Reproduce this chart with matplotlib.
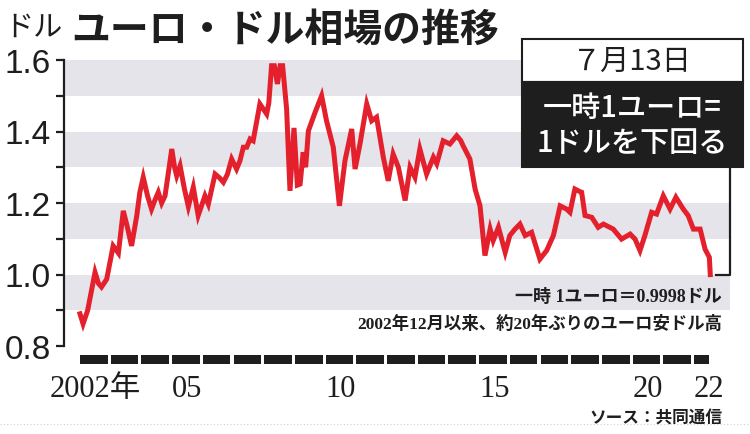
import matplotlib
matplotlib.use('Agg')
import matplotlib.pyplot as plt
from matplotlib.patches import Rectangle
from matplotlib.lines import Line2D

# euro / dollar rate
dates = [2002.00, 2002.10, 2002.25, 2002.49, 2002.60, 2002.70, 2002.87, 2003.08,
         2003.25, 2003.41, 2003.55, 2003.68, 2003.85, 2003.95, 2004.06, 2004.20,
         2004.33, 2004.45, 2004.55, 2004.66, 2004.77, 2004.99, 2005.08, 2005.15,
         2005.26, 2005.40, 2005.53, 2005.69, 2005.85, 2006.07, 2006.18, 2006.40,
         2006.55, 2006.67, 2006.80, 2006.94, 2007.10, 2007.21, 2007.32, 2007.43,
         2007.54, 2007.64, 2007.86, 2008.08, 2008.15, 2008.24, 2008.33, 2008.43,
         2008.52, 2008.60, 2008.73, 2008.84, 2008.97, 2009.08, 2009.17, 2009.27,
         2009.35, 2009.44, 2009.66, 2009.87, 2010.03, 2010.25, 2010.45, 2010.63,
         2010.85, 2010.96, 2011.12, 2011.34, 2011.50, 2011.66, 2011.88, 2012.04,
         2012.20, 2012.37, 2012.59, 2012.75, 2012.91, 2013.07, 2013.29, 2013.51,
         2013.62, 2013.83, 2014.05, 2014.27, 2014.40, 2014.48, 2014.70, 2014.87,
         2015.03, 2015.19, 2015.36, 2015.46, 2015.63, 2015.85, 2016.00, 2016.17,
         2016.33, 2016.50, 2016.71, 2016.98, 2017.20, 2017.42, 2017.64, 2017.85,
         2017.96, 2018.12, 2018.28, 2018.34, 2018.45, 2018.67, 2018.88, 2019.05,
         2019.37, 2019.64, 2019.92, 2020.08, 2020.24, 2020.40, 2020.62, 2020.78,
         2021.00, 2021.22, 2021.41, 2021.65, 2021.81, 2021.98, 2022.20, 2022.36,
         2022.50, 2022.53]
rates = [0.890, 0.862, 0.900, 1.006, 0.975, 0.965, 0.987, 1.080,
         1.060, 1.178, 1.130, 1.080, 1.165, 1.230, 1.272, 1.220,
         1.183, 1.210, 1.230, 1.200, 1.220, 1.351, 1.300, 1.276,
         1.304, 1.240, 1.190, 1.244, 1.165, 1.220, 1.197, 1.281,
         1.270, 1.258, 1.280, 1.323, 1.295, 1.318, 1.356, 1.356,
         1.379, 1.374, 1.477, 1.449, 1.480, 1.584, 1.584, 1.533,
         1.584, 1.584, 1.463, 1.234, 1.410, 1.250, 1.253, 1.342,
         1.300, 1.402, 1.454, 1.500, 1.430, 1.356, 1.192, 1.318,
         1.407, 1.295, 1.365, 1.477, 1.430, 1.440, 1.328, 1.262,
         1.337, 1.300, 1.207, 1.300, 1.272, 1.351, 1.281, 1.328,
         1.310, 1.374, 1.365, 1.388, 1.375, 1.360, 1.323, 1.239,
         1.192, 1.053, 1.127, 1.095, 1.132, 1.062, 1.109, 1.127,
         1.141, 1.109, 1.118, 1.043, 1.067, 1.109, 1.192, 1.183,
         1.174, 1.239, 1.232, 1.230, 1.165, 1.160, 1.132, 1.141,
         1.127, 1.099, 1.113, 1.099, 1.067, 1.109, 1.174, 1.169,
         1.220, 1.183, 1.216, 1.183, 1.165, 1.127, 1.127, 1.071,
         1.048, 0.9998]

years = list(range(2002, 2023))
year_labels = {2002: '2002年', 2005: '05', 2010: '10', 2015: '15', 2020: '20', 2022: '22'}
yticks = [0.8, 1.0, 1.2, 1.4, 1.6]
bands = [(0.9, 1.0), (1.1, 1.2), (1.3, 1.4), (1.5, 1.6)]

W, H = 750, 435
red = '#e3202b'
ink = '#1e1e1e'
jp = ['Noto Sans CJK JP', 'DejaVu Sans']
serif_jp = ['Liberation Serif', 'Noto Sans CJK JP']


def fx(x):
    return x / W


def fy(y):
    return 1 - y / H


fig = plt.figure(figsize=(7.5, 4.35), dpi=100)
ax = fig.add_axes([fx(65), fy(347), fx(730) - fx(65), fy(61) - fy(347)])

for lo, hi in bands:
    ax.axhspan(lo, hi, color='#e4e4ea', lw=0, zorder=0)

ax.plot(dates, rates, color=red, lw=3.6, solid_joinstyle='miter', zorder=3)

ax.set_xlim(2002 - 15 / 30.7, 2002 + 650 / 30.7)
ax.set_ylim(0.8, 1.6)
for s in ['top', 'right', 'bottom']:
    ax.spines[s].set_visible(False)
ax.spines['left'].set_position(('outward', 1))
ax.spines['left'].set_linewidth(1.6)
ax.spines['left'].set_color(ink)
ax.set_xticks([])
ax.set_yticks(yticks)
ax.set_yticks([0.9, 1.1, 1.3, 1.5], minor=True)
ax.set_yticklabels([f'{v:.1f}' for v in yticks], family='Liberation Sans',
                   fontsize=24, color=ink)
ax.tick_params(axis='y', which='both', direction='out', length=6, width=1.6,
               color=ink, pad=3)

# year bar under the plot
xform = ax.get_xaxis_transform()
for yr in years:
    end = min(yr + 0.9, 2022.5)
    ax.add_patch(Rectangle((yr, -0.063), end - yr, 0.031, transform=xform,
                           color=ink, lw=0, clip_on=False))
for yr, lab in year_labels.items():
    ax.text(yr + 0.5, -0.15, lab, transform=xform, ha='center', va='center',
            fontsize=22, family=serif_jp, color=ink)

# titles
fig.text(fx(4), fy(28), 'ドル', family=jp, fontsize=21, color=ink, va='center')
fig.text(fx(71), fy(30), 'ユーロ・ドル相場の推移', family=jp, fontsize=28,
         weight='bold', color=ink, va='center')

# callout box
fig.patches.append(Rectangle((fx(522), fy(83)), fx(743) - fx(522), fy(40) - fy(83),
                             transform=fig.transFigure, facecolor='white',
                             edgecolor=ink, lw=1.5, zorder=5))
fig.patches.append(Rectangle((fx(522), fy(168)), fx(743) - fx(522), fy(83) - fy(168),
                             transform=fig.transFigure, facecolor=ink,
                             edgecolor=ink, lw=1.5, zorder=5))
fig.text(fx(632), fy(62), '７月13日', family=jp, fontsize=21, color=ink,
         ha='center', va='center', zorder=6)
fig.text(fx(632), fy(108), '一時1ユーロ=', family=jp, fontsize=21, weight='medium',
         color='white', ha='center', va='center', zorder=6)
fig.text(fx(632), fy(143), '1ドルを下回る', family=jp, fontsize=21, weight='medium',
         color='white', ha='center', va='center', zorder=6)
fig.lines.append(Line2D([fx(730), fx(730), fx(716)], [fy(168), fy(276), fy(276)],
                        transform=fig.transFigure, color=ink, lw=1.6))

# notes
fig.text(fx(722), fy(297), '一時 1ユーロ＝0.9998ドル', family=serif_jp, fontsize=13,
         weight='bold', color=ink, ha='right', va='center')
fig.text(fx(722), fy(324), '2002年12月以来、約20年ぶりのユーロ安ドル高', family=serif_jp,
         fontsize=12.5, weight='bold', color=ink, ha='right', va='center')
fig.text(fx(722), fy(419), 'ソース：共同通信', family=jp, fontsize=12,
         weight='bold', color=ink, ha='right', va='center')
fig.lines.append(Line2D([0, 1], [fy(425), fy(425)], transform=fig.transFigure,
                        color='#d0d0d0', lw=0.8, ls=(0, (1, 2))))

fig.savefig('out.png', dpi=100)
